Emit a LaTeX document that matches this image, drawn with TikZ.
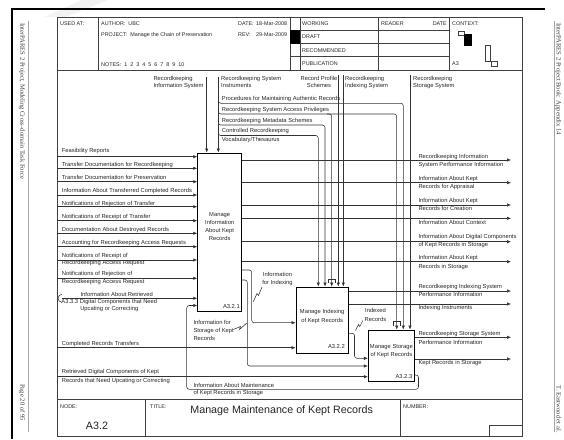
\documentclass[tikz,border=0pt]{standalone}
\usepackage{fontspec}
\setmainfont{Liberation Sans}
\newfontfamily\sideserif{Liberation Serif}
\usetikzlibrary{arrows.meta}
\newcommand\labW[3]{\node[lab,anchor=base west] (#1) at (#2) {#3};}
\newcommand\labC[3]{\node[lab,anchor=base] (#1) at (#2) {#3};}
\newcommand\labE[3]{\node[lab,anchor=base east] (#1) at (#2) {#3};}
\newcommand\hdW[3]{\node[hd,anchor=base west] (#1) at (#2) {#3};}
\begin{document}
\begin{tikzpicture}[x=1pt,y=-1pt,
  ln/.style={draw=black!80,line width=0.55pt},
  arr/.style={ln,-{Latex[length=4pt,width=3.4pt]}},
  rc/.style={rounded corners=2.5pt},
  box/.style={draw=black,line width=0.85pt,inner sep=0pt,rectangle},
  lab/.style={font=\fontsize{5.8}{7}\selectfont,text=black!85,inner sep=0pt},
  hd/.style={font=\fontsize{5.4}{6.5}\selectfont,text=black!85,inner sep=0pt},
  frm/.style={draw=black!75,line width=0.6pt},
  side/.style={font=\sideserif\fontsize{6.6}{8}\selectfont,text=black!75,inner sep=0pt,rotate=-90}]
\useasboundingbox (0,0) rectangle (564,439);
\fill[white] (0,0) rectangle (564,439);
\fill[gray!10] (82,0) -- (108,0) -- (66,17) -- (44,17) -- cycle;
% page rules
\draw[black,line width=1.6pt] (11,9) -- (545,9);
\draw[black,line width=1.6pt] (12,8.2) -- (12,439);
\draw[gray!70,line width=0.4pt] (28,21) -- (28,432);
\draw[gray!70,line width=0.4pt] (554,21) -- (554,432);
\node[side,anchor=base west] (sideL1) at (20.4,23) {InterPARES 2 Project, Modeling Cross-domain Task Force};
\node[side,anchor=base east] (sideL2) at (20.4,421) {Page 20 of 95};
\node[side,anchor=base west] (sideR1) at (556.7,23) {InterPARES 2 Project Book: Appendix 14};
\node[side,anchor=base east] (sideR2) at (556.7,433) {T. Eastwood et al.};
% frame and header
\draw[frm] (57,17) rectangle (522,436);
\draw[frm] (57,70) -- (522,70);
\draw[frm] (57,399) -- (522,399);
\foreach \xx in {98,290,300,378,449} \draw[frm] (\xx,17) -- (\xx,70);
\foreach \yy in {30.3,43.5,56.7} \draw[frm] (290,\yy) -- (449,\yy);
\fill[black] (290,30.3) rectangle (300,43.5);
\hdW{usedat}{60,25.7}{USED AT:}
\hdW{author}{101,25.7}{AUTHOR:\ \ UBC}
\hdW{project}{101,36.3}{PROJECT:\ \ Manage the Chain of Preservation}
\hdW{notes}{101,66}{NOTES:\ \ 1\ \ 2\ \ 3\ \ 4\ \ 5\ \ 6\ \ 7\ \ 8\ \ 9\ \ 10}
\hdW{date1}{238,25.7}{DATE:}
\hdW{date1v}{256,25.7}{18-Mar-2008}
\hdW{rev}{238,36.3}{REV:}
\hdW{revv}{256,36.3}{29-Mar-2009}
\hdW{working}{302,25.7}{WORKING}
\hdW{draft}{302,38.9}{DRAFT}
\hdW{recom}{302,52.1}{RECOMMENDED}
\hdW{publ}{302,65.3}{PUBLICATION}
\hdW{reader}{381,25.7}{READER}
\node[hd,anchor=base east] (date2) at (447,25.7) {DATE};
\hdW{context}{452,25.7}{CONTEXT:}
\hdW{ctxa}{452,65.3}{A3}
\draw[frm,fill=white] (458,31) rectangle (464,35);
\fill[black] (464,34) rectangle (472,46);
\draw[frm] (485,45) rectangle (490,61.5);
\draw[frm] (491,61.5) rectangle (497.5,66.5);
% title block
\draw[frm] (145,399) -- (145,436);
\draw[frm] (400,399) -- (400,436);
\draw[frm] (489,425) rectangle (522,436);
\node[hd,anchor=base west] (nodel) at (60,408.5) {NODE:};
\node[hd,anchor=base west] (titlel) at (150,408.5) {TITLE:};
\node[hd,anchor=base west] (numl) at (403,408.5) {NUMBER:};
\node[font=\fontsize{10.7}{12}\selectfont,text=black!85,inner sep=0pt,anchor=base] (title) at (281.7,413.5) {Manage Maintenance of Kept Records};
\node[font=\fontsize{10.7}{12}\selectfont,text=black!85,inner sep=0pt,anchor=base] (nodenum) at (97,429) {A3.2};
% boxes
\node[box,minimum width=44pt,minimum height=158.5pt] (b1) at (219.7,232.25) {};
\node[box,minimum width=52.3pt,minimum height=66.3pt] (b2) at (322.15,320.15) {};
\node[box,minimum width=46.2pt,minimum height=51.7pt] (b3) at (391.4,355.85) {};
\labC{t1a}{219.7,216.5}{Manage}
\labC{t1b}{219.7,224.5}{Information}
\labC{t1c}{219.7,232.5}{About Kept}
\labC{t1d}{219.7,240.5}{Records}
\labC{t2a}{322.2,313.5}{Manage Indexing}
\labC{t2b}{322.2,322}{of Kept Records}
\labC{t3a}{391.4,348}{Manage Storage}
\labC{t3b}{391.4,356}{of Kept Records}
\labE{n1}{240,308}{A3.2.1}
\labE{n2}{345,348.7}{A3.2.2}
\labE{n3}{412.5,378}{A3.2.3}
% controls from top
\labW{rkis1}{153.3,80}{Recordkeeping}
\labW{rkis2}{153.3,87.7}{Information System}
\labW{rksi1}{221,80}{Recordkeeping System}
\labW{rksi2}{221,87.7}{Instruments}
\labW{proc}{221.7,100.3}{Procedures for Maintaining Authentic Records}
\labW{priv}{221.7,111.3}{Recordkeeping System Access Privileges}
\labW{meta}{221.7,122}{Recordkeeping Metadata Schemes}
\labW{cv1}{221.7,132.7}{Controlled Recordkeeping}
\labW{cv2}{221.7,141.3}{Vocabulary/Thesaurus}
\labC{rps1}{319,80}{Record Profile}
\labC{rps2}{319,87.7}{Schemes}
\labW{rkix1}{345,80}{Recordkeeping}
\labW{rkix2}{345,87.7}{Indexing System}
\labW{rkst1}{413,80}{Recordkeeping}
\labW{rkst2}{413,87.7}{Storage System}
\draw[arr] (206.7,77) -- (b1.north -| 206.7,0);
\draw[arr] (218.3,77) -- (b1.north -| 218.3,0);
\draw[arr,rc] (218.3,99) -- (218.3,103.3) -- (403.3,103.3) -- (b3.north -| 403.3,0);
\draw[arr,rc] (218.3,110) -- (218.3,114) -- (396.7,114) -- (b3.north -| 396.7,0);
\draw[arr,rc] (327,114) -- (331.7,114) -- (b2.north -| 331.7,0);
\draw[arr,rc] (218.3,121) -- (218.3,125) -- (325,125) -- (b2.north -| 325,0);
\draw[arr,rc] (218.3,131.5) -- (218.3,135.5) -- (318.3,135.5) -- (b2.north -| 318.3,0);
\draw[arr] (338.3,75) -- (b2.north -| 338.3,0);
\draw[arr] (343.3,75) -- (b2.north -| 343.3,0);
\draw[arr] (410,75) -- (b3.north -| 410,0);
\draw[ln] (328.3,283) -- (328.3,279) -- (335.1,279) -- (335.1,283);
\draw[ln] (393.3,325.5) -- (393.3,321.5) -- (400.1,321.5) -- (400.1,325.5);
% inputs
\foreach \yy in {156.7,168.3,181.7,195,206.7,220.7,233.3,246.7,260,278.3}
  \draw[arr] (57,\yy) -- (b1.west |- 0,\yy);
\labW{in1}{61.7,152.7}{Feasibility Reports}
\labW{in2}{61.7,166}{Transfer Documentation for Recordkeeping}
\labW{in3}{61.7,179.3}{Transfer Documentation for Preservation}
\labW{in4}{61.7,192.5}{Information About Transferred Completed Records}
\labW{in5}{61.7,205}{Notifications of Rejection of Transfer}
\labW{in6}{61.7,218.3}{Notifications of Receipt of Transfer}
\labW{in7}{61.7,231.3}{Documentation About Destroyed Records}
\labW{in8}{61.7,244.5}{Accounting for Recordkeeping Access Requests}
\labW{in9a}{61.7,257}{Notifications of Receipt of}
\labW{in9b}{61.7,264.7}{Recordkeeping Access Request}
\labW{in10a}{61.7,275.3}{Notifications of Rejection of}
\labW{in10b}{61.7,283.7}{Recordkeeping Access Request}
\labC{in11a}{116.7,296}{Information About Retrieved}
\labC{in11b}{109.3,303.7}{A3.3.3 Digital Components that Need}
\labC{in11c}{109.3,310.3}{Upcating or Correcting}
\draw[arr] (62,298.3) -- (b1.west |- 0,298.3);
\draw[ln] (62,294.3) arc[start angle=270,end angle=90,radius=4];
\labW{in12}{61.7,345}{Completed Records Transfers}
\draw[arr] (57,347.7) -- (b2.west |- 0,347.7);
\labW{in13a}{61.7,373.7}{Retrieved Digital Components of Kept}
\labW{in13b}{61.7,382.7}{Records that Need Upcating or Correcting}
\draw[arr] (57,376.7) -- (b3.west |- 0,376.7);
% outputs
\foreach \yy in {160,182.7,205,218.3,241.7,261.7}
  \draw[arr] (b1.east |- 0,\yy) -- (511,\yy);
\foreach \yy in {291,304}
  \draw[arr] (b2.east |- 0,\yy) -- (511,\yy);
\foreach \yy in {337.3,359}
  \draw[arr] (b3.east |- 0,\yy) -- (511,\yy);
\labW{o1a}{418.3,158.7}{Recordkeeping Information}
\labW{o1b}{418.3,166}{System Performance Information}
\labW{o2a}{418.3,180.3}{Information About Kept}
\labW{o2b}{418.3,188.7}{Records for Appraisal}
\labW{o3a}{418.3,202.7}{Information About Kept}
\labW{o3b}{418.3,210.3}{Records for Creation}
\labW{o4}{418.3,224.3}{Information About Context}
\labW{o5a}{418.3,238.7}{Information About Digital Components}
\labW{o5b}{418.3,246.3}{of Kept Records in Storage}
\labW{o6a}{418.3,259.7}{Information About Kept}
\labW{o6b}{418.3,268}{Records in Storage}
\labW{o7a}{418.3,288}{Recordkeeping Indexing System}
\labW{o7b}{418.3,296}{Performance Information}
\labW{o8}{418.3,309.3}{Indexing Instruments}
\labW{o9a}{418.3,335.3}{Recordkeeping Storage System}
\labW{o9b}{418.3,344.3}{Performance Information}
\labW{o10}{418.3,364.7}{Kept Records in Storage}
% internal connectors
\draw[arr,rc] (b1.east |- 0,270) -- (251.7,270) -- (251.7,322.7) -- (b2.west |- 0,322.7);
\draw[arr,rc] (b1.east |- 0,280) -- (247.3,280) -- (247.3,366) -- (b3.west |- 0,366);
\draw[arr,rc] (b2.east |- 0,333.3) -- (354.5,333.3) -- (354.5,358.3) -- (b3.west |- 0,358.3);
\draw[arr,rc] (b3.east |- 0,375) -- (418.5,375) -- (418.5,389.3) -- (186.7,389.3) -- (186.7,305.5) -- (b1.west |- 0,305.5);
\draw[ln] (253.3,301.7) -- (257,293.5) -- (258.5,295.5) -- (262,287);
\draw[ln] (233.5,329.5) -- (240.5,326.5) -- (239.5,329.5) -- (246.8,323);
\draw[ln] (355.5,330.5) -- (358.5,324.5) -- (359.8,326.5) -- (362.8,320.5);
\labC{ifi1}{277.5,276.3}{Information}
\labC{ifi2}{277.5,284.3}{for Indexing}
\labW{ifs1}{193.3,324.7}{Information for}
\labW{ifs2}{193.3,332.7}{Storage of Kept}
\labW{ifs3}{193.3,340.3}{Records}
\labC{ir1}{375.5,312.7}{Indexed}
\labC{ir2}{375.5,321.3}{Records}
\labW{ima1}{193.3,387}{Information About Maintenance}
\labW{ima2}{193.3,394.7}{of Kept Records in Storage}
\end{tikzpicture}
\end{document}
